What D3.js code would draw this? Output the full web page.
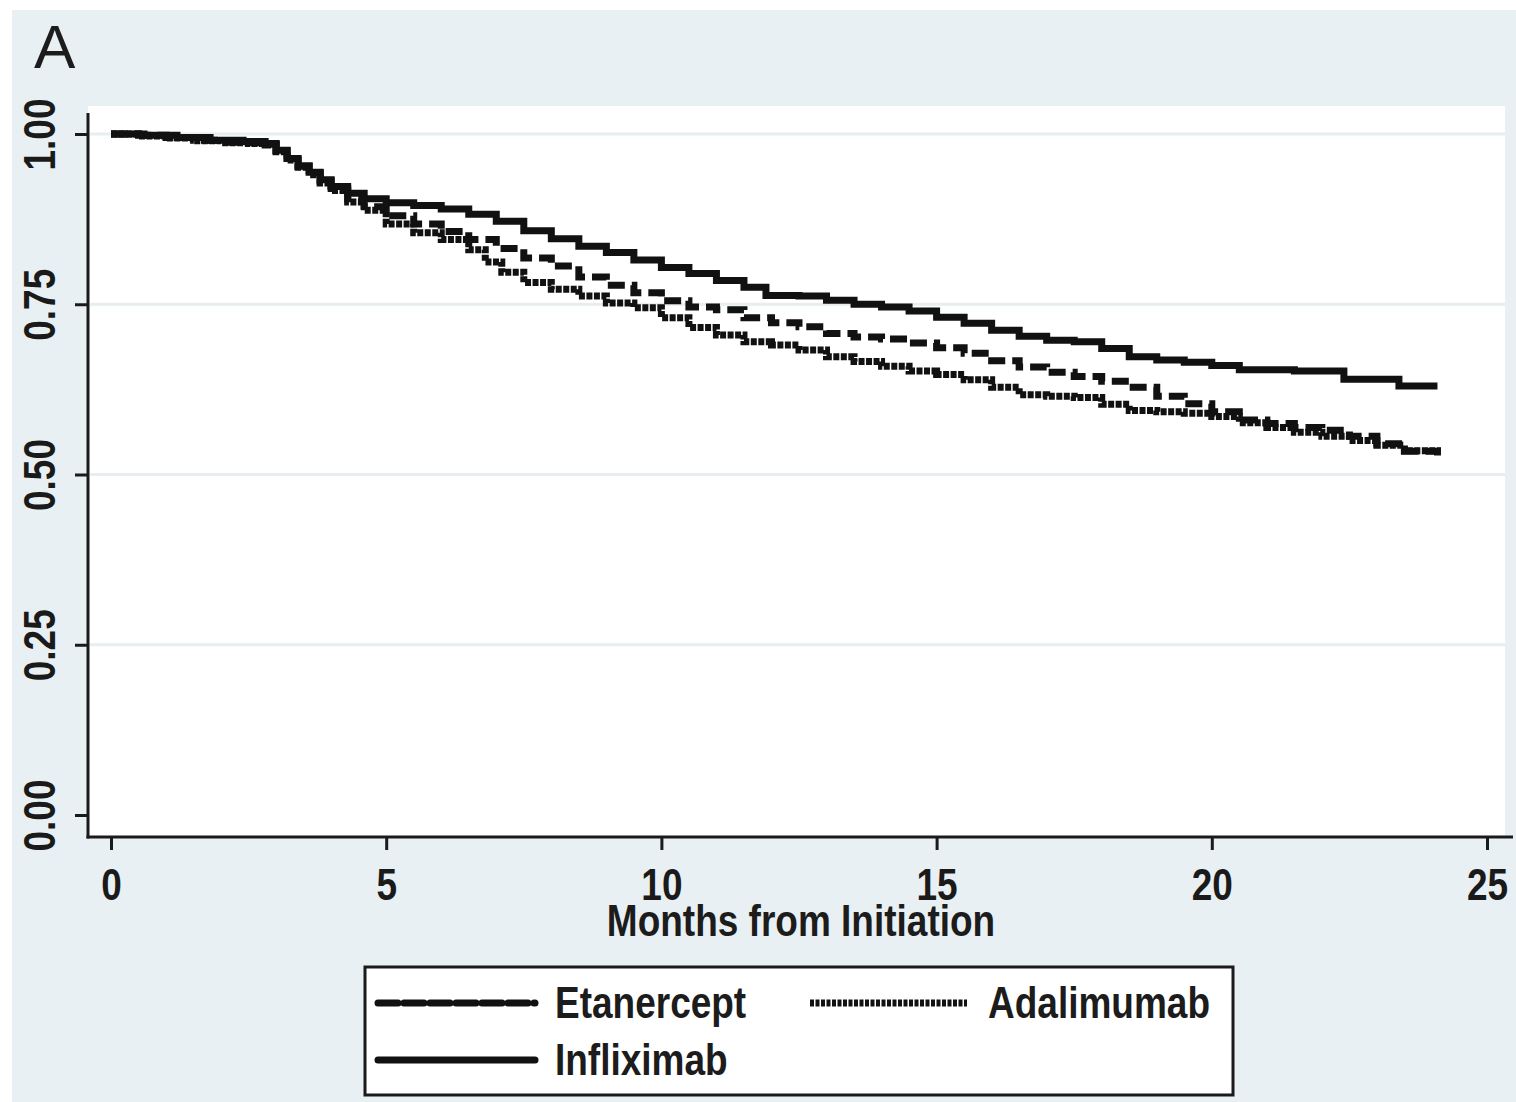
<!DOCTYPE html>
<html>
<head>
<meta charset="utf-8">
<script src="https://cdn.jsdelivr.net/npm/d3@7"></script>
<style>
    body { margin: 0; background: #fff; }
    text { font-family: "Liberation Sans", Arial, sans-serif; fill: #1c1c1c; }
</style>
</head>
<body>
<div id="chart"></div>
<script>
// Data: [months, proportion still on drug]
const xTicks = [0, 5, 10, 15, 20, 25];
const yTicks = [0, 0.25, 0.5, 0.75, 1];
const gridTicks = [0.25, 0.5, 0.75, 1];
const xTitle = "Months from Initiation";
const panelLabel = "A";

const etanercept = [
    [0, 1], [0.5, 0.998], [1.0, 0.995], [1.5, 0.991], [2.0, 0.988], [2.5, 0.987], [2.8, 0.985],
    [3.0, 0.975], [3.2, 0.964], [3.4, 0.953], [3.6, 0.943], [3.8, 0.931], [4.0, 0.92], [4.3, 0.905],
    [4.6, 0.893], [5.0, 0.88], [5.5, 0.868], [6.0, 0.857], [6.5, 0.845], [7.0, 0.832], [7.5, 0.818],
    [8.0, 0.806], [8.5, 0.79], [9.0, 0.778], [9.5, 0.767], [10.0, 0.755], [10.5, 0.746], [11.0, 0.742],
    [11.5, 0.73], [12.0, 0.723], [12.5, 0.717], [13.0, 0.707], [13.5, 0.702], [14.0, 0.699], [14.5, 0.693],
    [15.0, 0.686], [15.5, 0.678], [16.0, 0.667], [16.5, 0.658], [17.0, 0.65], [17.5, 0.644], [18.0, 0.637],
    [18.5, 0.628], [19.0, 0.615], [19.5, 0.604], [20.0, 0.592], [20.5, 0.58], [21.0, 0.575], [21.5, 0.569],
    [22.0, 0.565], [22.5, 0.556], [23.0, 0.545], [23.5, 0.534], [24.1, 0.531]
];

const adalimumab = [
    [0, 1], [0.5, 0.997], [1.0, 0.994], [1.5, 0.99], [2.0, 0.987], [2.5, 0.986], [2.8, 0.984],
    [3.0, 0.974], [3.2, 0.962], [3.4, 0.951], [3.6, 0.94], [3.8, 0.928], [4.0, 0.917], [4.3, 0.9],
    [4.6, 0.888], [5.0, 0.868], [5.5, 0.855], [6.0, 0.845], [6.5, 0.83], [6.8, 0.812], [7.1, 0.797],
    [7.5, 0.782], [8.0, 0.772], [8.5, 0.762], [9.0, 0.752], [9.5, 0.745], [10.0, 0.73], [10.5, 0.716],
    [11.0, 0.705], [11.5, 0.695], [12.0, 0.69], [12.5, 0.683], [13.0, 0.673], [13.5, 0.666], [14.0, 0.659],
    [14.5, 0.652], [15.0, 0.647], [15.5, 0.639], [16.0, 0.628], [16.5, 0.617], [17.0, 0.615], [17.5, 0.613],
    [18.0, 0.603], [18.5, 0.594], [19.0, 0.592], [19.5, 0.59], [20.0, 0.585], [20.5, 0.576], [21.0, 0.569],
    [21.5, 0.562], [22.0, 0.556], [22.5, 0.55], [23.0, 0.543], [23.5, 0.535], [24.1, 0.528]
];

const infliximab = [
    [0, 1], [0.6, 0.998], [1.2, 0.995], [1.8, 0.991], [2.4, 0.989], [2.8, 0.986],
    [3.0, 0.976], [3.2, 0.964], [3.4, 0.953], [3.6, 0.944], [3.8, 0.933], [4.0, 0.923], [4.3, 0.913],
    [4.6, 0.905], [5.0, 0.899], [5.5, 0.895], [6.0, 0.89], [6.5, 0.882], [7.0, 0.872], [7.5, 0.858],
    [8.0, 0.846], [8.5, 0.835], [9.0, 0.826], [9.5, 0.815], [10.0, 0.804], [10.5, 0.795], [11.0, 0.785],
    [11.5, 0.775], [11.9, 0.763], [12.5, 0.762], [13.0, 0.756], [13.5, 0.75], [14.0, 0.746], [14.5, 0.74],
    [15.0, 0.731], [15.5, 0.722], [16.0, 0.712], [16.5, 0.703], [17.0, 0.697], [17.5, 0.695], [18.0, 0.685],
    [18.5, 0.673], [19.0, 0.668], [19.5, 0.665], [20.0, 0.66], [20.5, 0.654], [21.5, 0.652], [22.4, 0.64],
    [23.4, 0.63], [24.1, 0.63]
];

const series = [
    { label: "Etanercept", data: etanercept, dash: "17,7", legendDash: "20,6", legendWidth: 7, cap: "round" },
    { label: "Adalimumab", data: adalimumab, dash: "6,1.5", legendDash: "4,1.5", legendWidth: 7, cap: "butt" },
    { label: "Infliximab", data: infliximab, dash: null, legendDash: null, legendWidth: 7, cap: "round" }
];

// Layout
const width = 1516;
const height = 1102;
const bg = "#e9f0f3";
const ink = "#1a1a1a";

const svg = d3.select("#chart")
    .append("svg")
    .attr("width", width)
    .attr("height", height);

// Graph region + plot region
svg.append("rect").attr("x", 12).attr("y", 10).attr("width", width - 12).attr("height", height - 10).attr("fill", bg);
svg.append("rect").attr("x", 88).attr("y", 106).attr("width", 1417).attr("height", 731).attr("fill", "#fff");

const x = d3.scaleLinear().domain([0, 25]).range([111, 1487]);
const y = d3.scaleLinear().domain([0, 1]).range([815, 134]);

// Grid lines
svg.append("g")
    .selectAll("line")
    .data(gridTicks)
    .enter().append("line")
    .attr("x1", 90).attr("x2", 1505)
    .attr("y1", d => y(d)).attr("y2", d => y(d))
    .attr("stroke", "#e6eef1")
    .attr("stroke-width", 3);

// Y axis
const yAxis = svg.append("g")
    .attr("transform", "translate(88,0)")
    .call(d3.axisLeft(y).tickValues(yTicks).tickSize(13).tickFormat(d3.format(".2f")));
yAxis.select(".domain").remove();
yAxis.selectAll(".tick line").attr("stroke", ink).attr("stroke-width", 3);
yAxis.selectAll(".tick text")
    .attr("x", 0).attr("y", 0).attr("dy", null)
    .attr("text-anchor", "middle")
    .attr("transform", "translate(-33,0) rotate(-90) scale(1,1.2)")
    .style("font-size", "37px")
    .style("font-weight", "bold")
    .style("fill", ink);

// X axis
const xAxis = svg.append("g")
    .attr("transform", "translate(0,837)")
    .call(d3.axisBottom(x).tickValues(xTicks).tickSize(13).tickFormat(d3.format("d")));
xAxis.select(".domain").remove();
xAxis.selectAll(".tick line").attr("stroke", ink).attr("stroke-width", 3);
xAxis.selectAll(".tick text")
    .attr("y", 0).attr("dy", null)
    .attr("text-anchor", "middle")
    .attr("transform", "translate(0,63) scale(1,1.2)")
    .style("font-size", "37px")
    .style("font-weight", "bold")
    .style("fill", ink);

// Axis lines
svg.append("line").attr("x1", 88).attr("x2", 88).attr("y1", 113).attr("y2", 838.5)
    .attr("stroke", ink).attr("stroke-width", 3);
svg.append("line").attr("x1", 86.5).attr("x2", 1513).attr("y1", 837).attr("y2", 837)
    .attr("stroke", ink).attr("stroke-width", 3);

// Axis title
svg.append("text")
    .attr("transform", "translate(801,936) scale(1,1.2)")
    .attr("text-anchor", "middle")
    .style("font-size", "37px")
    .style("font-weight", "bold")
    .text(xTitle);

// Panel label
svg.append("text")
    .attr("x", 34).attr("y", 68)
    .style("font-size", "62px")
    .text(panelLabel);

// Survival curves
const line = d3.line()
    .x(d => x(d[0]))
    .y(d => y(d[1]))
    .curve(d3.curveStepAfter);

svg.append("g")
    .selectAll("path")
    .data(series)
    .enter().append("path")
    .attr("d", d => line(d.data))
    .attr("fill", "none")
    .attr("stroke", "#111")
    .attr("stroke-width", 7)
    .attr("stroke-dasharray", d => d.dash);

// Legend
const legendPos = [
    { lx: 378, tx: 555, y: 1003 },
    { lx: 810, tx: 988, y: 1003 },
    { lx: 378, tx: 555, y: 1060 }
];

svg.append("rect")
    .attr("x", 365).attr("y", 967).attr("width", 868).attr("height", 128)
    .attr("fill", "#fff").attr("stroke", ink).attr("stroke-width", 3);

const legend = svg.append("g")
    .selectAll("g")
    .data(series)
    .enter().append("g")
    .attr("transform", (d, i) => `translate(0, ${legendPos[i].y})`);

legend.append("line")
    .attr("x1", (d, i) => legendPos[i].lx)
    .attr("x2", (d, i) => legendPos[i].lx + 157)
    .attr("stroke", "#111")
    .attr("stroke-width", d => d.legendWidth)
    .attr("stroke-linecap", d => d.cap)
    .attr("stroke-dasharray", d => d.legendDash);

legend.append("text")
    .attr("transform", (d, i) => `translate(${legendPos[i].tx}, 15) scale(1,1.2)`)
    .style("font-size", "37px")
    .style("font-weight", "bold")
    .text(d => d.label);
</script>
</body>
</html>
